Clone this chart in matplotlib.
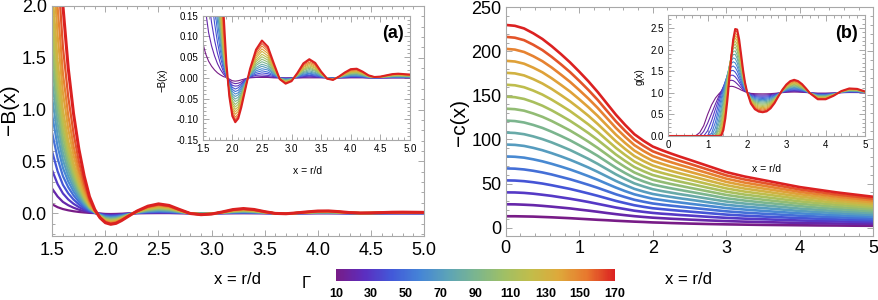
import matplotlib
matplotlib.use("Agg")
import matplotlib.pyplot as plt
from matplotlib.colors import LinearSegmentedColormap, Normalize
from matplotlib.cm import ScalarMappable
from matplotlib.ticker import MultipleLocator, FormatStrFormatter

plt.rcParams['font.family'] = ['Liberation Sans', 'DejaVu Sans']

# coupling parameter of every curve
gamma = [10, 20, 30, 40, 50, 60, 70, 80, 90, 100, 110, 120, 130, 140, 150, 160, 170]
cbar_ticks = [10, 30, 50, 70, 90, 110, 130, 150, 170]

# -c(x), one row per gamma
x_c = [0.0, 0.125, 0.25, 0.375, 0.5, 0.625, 0.75, 0.875, 1.0, 1.125, 1.25, 1.375, 1.5, 1.625,
       1.75, 1.875, 2.0, 2.125, 2.25, 2.375, 2.5, 2.75, 3.0, 3.25, 3.5, 3.75, 4.0, 4.25, 4.5, 4.75, 5.0]
minus_c = [
    [12.9, 12.9, 12.7, 12.5, 12.1, 11.7, 11.2, 10.7, 10.1, 9.5, 8.9, 8.4, 7.8, 7.3, 6.8, 6.4, 5.9, 5.6, 5.2, 4.9, 4.6, 4.1, 3.7, 3.4, 3.1, 2.9, 2.7, 2.5, 2.4, 2.2, 2.1],
    [26.5, 26.4, 26.0, 25.5, 24.7, 23.8, 22.8, 21.8, 20.5, 19.3, 18.0, 16.6, 15.3, 14.1, 13.0, 12.1, 11.3, 10.7, 10.1, 9.6, 9.1, 8.2, 7.4, 6.8, 6.3, 5.8, 5.4, 5.0, 4.7, 4.4, 4.2],
    [40.0, 39.9, 39.4, 38.5, 37.3, 36.0, 34.4, 32.8, 31.0, 29.1, 27.0, 24.9, 22.8, 21.0, 19.2, 17.9, 16.7, 15.8, 15.1, 14.3, 13.7, 12.3, 11.1, 10.2, 9.5, 8.8, 8.1, 7.6, 7.1, 6.6, 6.2],
    [53.6, 53.4, 52.7, 51.5, 50.0, 48.1, 46.0, 43.9, 41.4, 38.8, 36.1, 33.2, 30.3, 27.8, 25.4, 23.6, 22.0, 21.0, 20.0, 19.1, 18.2, 16.5, 14.8, 13.6, 12.6, 11.7, 10.8, 10.1, 9.4, 8.8, 8.3],
    [67.2, 66.9, 66.0, 64.5, 62.6, 60.3, 57.6, 54.9, 51.8, 48.6, 45.2, 41.5, 37.8, 34.6, 31.6, 29.4, 27.4, 26.1, 24.9, 23.8, 22.7, 20.6, 18.5, 17.0, 15.8, 14.7, 13.5, 12.6, 11.8, 11.0, 10.3],
    [80.8, 80.4, 79.4, 77.5, 75.2, 72.4, 69.3, 66.0, 62.3, 58.4, 54.3, 49.8, 45.4, 41.4, 37.8, 35.2, 32.8, 31.3, 29.8, 28.5, 27.2, 24.7, 22.2, 20.5, 19.0, 17.6, 16.2, 15.2, 14.1, 13.2, 12.4],
    [94.3, 93.9, 92.7, 90.5, 87.8, 84.5, 80.9, 77.0, 72.7, 68.2, 63.3, 58.1, 52.9, 48.3, 44.0, 40.9, 38.2, 36.4, 34.8, 33.2, 31.8, 28.8, 25.9, 23.9, 22.2, 20.6, 18.9, 17.7, 16.5, 15.4, 14.4],
    [107.9, 107.4, 106.0, 103.5, 100.4, 96.7, 92.5, 88.1, 83.1, 78.0, 72.4, 66.4, 60.4, 55.1, 50.2, 46.7, 43.6, 41.5, 39.7, 37.9, 36.3, 32.9, 29.6, 27.3, 25.4, 23.5, 21.6, 20.2, 18.8, 17.6, 16.5],
    [121.5, 120.9, 119.3, 116.5, 113.1, 108.8, 104.1, 99.1, 93.5, 87.7, 81.5, 74.7, 67.9, 61.9, 56.4, 52.4, 48.9, 46.7, 44.6, 42.7, 40.8, 37.1, 33.3, 30.7, 28.5, 26.5, 24.4, 22.7, 21.2, 19.8, 18.5],
    [135.0, 134.4, 132.7, 129.5, 125.7, 121.0, 115.7, 110.2, 104.0, 97.5, 90.5, 83.0, 75.4, 68.7, 62.6, 58.2, 54.3, 51.8, 49.5, 47.4, 45.3, 41.2, 37.1, 34.1, 31.7, 29.4, 27.1, 25.3, 23.5, 22.1, 20.6],
    [148.6, 148.0, 146.0, 142.5, 138.3, 133.1, 127.3, 121.2, 114.4, 107.3, 99.6, 91.3, 82.9, 75.6, 68.8, 64.0, 59.7, 57.0, 54.5, 52.1, 49.9, 45.3, 40.8, 37.5, 34.9, 32.3, 29.8, 27.8, 25.9, 24.3, 22.7],
    [162.2, 161.5, 159.3, 155.5, 150.9, 145.2, 138.9, 132.3, 124.8, 117.1, 108.7, 99.5, 90.4, 82.4, 75.0, 69.7, 65.1, 62.1, 59.4, 56.8, 54.4, 49.4, 44.5, 40.9, 38.1, 35.3, 32.5, 30.3, 28.2, 26.5, 24.7],
    [175.7, 175.0, 172.7, 168.5, 163.5, 157.4, 150.5, 143.3, 135.3, 126.9, 117.7, 107.8, 97.9, 89.2, 81.2, 75.5, 70.5, 67.2, 64.3, 61.5, 58.9, 53.5, 48.2, 44.3, 41.3, 38.2, 35.2, 32.9, 30.6, 28.7, 26.8],
    [189.3, 188.5, 186.0, 181.5, 176.2, 169.5, 162.1, 154.4, 145.7, 136.6, 126.8, 116.1, 105.4, 96.0, 87.4, 81.2, 75.8, 72.4, 69.2, 66.3, 63.4, 57.7, 51.9, 47.7, 44.4, 41.2, 37.9, 35.4, 32.9, 30.9, 28.8],
    [202.9, 202.0, 199.3, 194.5, 188.8, 181.7, 173.7, 165.4, 156.1, 146.4, 135.9, 124.4, 113.0, 102.9, 93.6, 87.0, 81.2, 77.5, 74.2, 71.0, 68.0, 61.8, 55.6, 51.1, 47.6, 44.1, 40.6, 37.9, 35.3, 33.1, 30.9],
    [216.5, 215.5, 212.7, 207.5, 201.4, 193.8, 185.4, 176.5, 166.6, 156.2, 145.0, 132.7, 120.5, 109.7, 99.8, 92.8, 86.6, 82.7, 79.1, 75.7, 72.5, 65.9, 59.3, 54.6, 50.8, 47.1, 43.3, 40.5, 37.6, 35.3, 32.9],
    [230.0, 229.0, 226.0, 220.5, 214.0, 205.9, 197.0, 187.5, 177.0, 166.0, 154.0, 141.0, 128.0, 116.5, 106.0, 98.5, 92.0, 87.8, 84.0, 80.4, 77.0, 70.0, 63.0, 58.0, 54.0, 50.0, 46.0, 43.0, 40.0, 37.5, 35.0],
]

# -B(x), one row per gamma
x_b = [1.5, 1.55, 1.6, 1.65, 1.7, 1.75, 1.8, 1.85, 1.9, 1.95, 2.0, 2.05, 2.1, 2.15, 2.2, 2.25,
       2.3, 2.4, 2.5, 2.6, 2.7, 2.8, 2.9, 3.0, 3.1, 3.2, 3.3, 3.4, 3.5, 3.6, 3.7, 3.8, 3.9,
       4.0, 4.1, 4.2, 4.3, 4.4, 4.5, 4.6, 4.7, 4.8, 4.9, 5.0]
minus_b = [
    [0.085, 0.058, 0.040, 0.028, 0.019, 0.012, 0.007, 0.003, 0.001, -0.003, -0.007, -0.008, -0.007, -0.005, -0.003, -0.001,
     0.0, 0.001, 0.001, 0.001, 0.0, 0.0, 0.0, 0.0, 0.0, 0.0, 0.0, 0.0, 0.0, 0.0, 0.0, 0.0, 0.0, 0.0,
     0.0, 0.0, 0.0, 0.0, 0.0, 0.0, 0.0, 0.0, 0.0, 0.0],
    [0.235, 0.161, 0.109, 0.077, 0.053, 0.034, 0.020, 0.009, 0.002, -0.006, -0.012, -0.014, -0.013, -0.010, -0.005, -0.001,
     0.001, 0.002, 0.003, 0.003, 0.001, 0.0, -0.001, 0.0, 0.0, 0.001, 0.002, 0.001, 0.001, 0.0, 0.0, 0.0, 0.0, 0.001,
     0.001, 0.001, 0.0, 0.0, 0.0, 0.0, 0.0, 0.0, 0.0, 0.0],
    [0.410, 0.281, 0.191, 0.133, 0.091, 0.059, 0.034, 0.015, 0.003, -0.009, -0.018, -0.020, -0.019, -0.014, -0.008, -0.002,
     0.002, 0.006, 0.007, 0.006, 0.003, 0.0, -0.001, -0.001, 0.001, 0.003, 0.004, 0.003, 0.001, 0.0, 0.0, 0.0, 0.001, 0.002,
     0.002, 0.001, 0.0, 0.0, 0.0, 0.0, 0.001, 0.001, 0.001, 0.001],
    [0.590, 0.405, 0.274, 0.192, 0.132, 0.085, 0.049, 0.022, 0.005, -0.011, -0.023, -0.027, -0.024, -0.018, -0.010, -0.002,
     0.003, 0.009, 0.012, 0.010, 0.005, 0.0, -0.002, -0.001, 0.002, 0.005, 0.006, 0.005, 0.002, 0.0, -0.001, 0.0, 0.002, 0.003,
     0.003, 0.002, 0.001, 0.0, 0.0, 0.001, 0.001, 0.001, 0.001, 0.001],
    [0.770, 0.528, 0.358, 0.251, 0.172, 0.111, 0.064, 0.029, 0.006, -0.014, -0.028, -0.033, -0.030, -0.022, -0.012, -0.002,
     0.004, 0.013, 0.017, 0.014, 0.007, -0.001, -0.003, -0.002, 0.002, 0.007, 0.009, 0.007, 0.003, 0.0, -0.001, 0.001, 0.002, 0.004,
     0.004, 0.003, 0.001, 0.0, 0.001, 0.001, 0.002, 0.002, 0.002, 0.002],
    [0.940, 0.645, 0.437, 0.306, 0.210, 0.136, 0.079, 0.035, 0.008, -0.016, -0.033, -0.039, -0.036, -0.026, -0.015, -0.003,
     0.005, 0.017, 0.022, 0.019, 0.009, -0.001, -0.003, -0.002, 0.003, 0.009, 0.011, 0.009, 0.004, 0.0, -0.001, 0.001, 0.003, 0.005,
     0.005, 0.004, 0.001, 0.0, 0.001, 0.001, 0.002, 0.002, 0.002, 0.002],
    [1.100, 0.755, 0.512, 0.358, 0.246, 0.159, 0.092, 0.041, 0.009, -0.019, -0.039, -0.045, -0.041, -0.030, -0.017, -0.003,
     0.007, 0.021, 0.028, 0.023, 0.011, -0.001, -0.004, -0.002, 0.004, 0.011, 0.014, 0.011, 0.005, -0.001, -0.002, 0.001, 0.004, 0.006,
     0.007, 0.005, 0.002, 0.001, 0.001, 0.002, 0.003, 0.003, 0.003, 0.002],
    [1.260, 0.864, 0.586, 0.410, 0.281, 0.182, 0.105, 0.047, 0.010, -0.022, -0.044, -0.051, -0.047, -0.035, -0.019, -0.004,
     0.008, 0.025, 0.033, 0.028, 0.013, -0.001, -0.005, -0.003, 0.004, 0.013, 0.017, 0.013, 0.006, -0.001, -0.002, 0.001, 0.005, 0.008,
     0.008, 0.006, 0.002, 0.001, 0.001, 0.002, 0.003, 0.004, 0.003, 0.003],
    [1.419, 0.974, 0.660, 0.462, 0.317, 0.205, 0.119, 0.053, 0.012, -0.024, -0.049, -0.057, -0.053, -0.039, -0.021, -0.004,
     0.010, 0.030, 0.039, 0.033, 0.015, -0.001, -0.006, -0.003, 0.005, 0.015, 0.020, 0.016, 0.007, -0.001, -0.002, 0.001, 0.006, 0.009,
     0.010, 0.007, 0.003, 0.001, 0.001, 0.003, 0.004, 0.004, 0.004, 0.003],
    [1.580, 1.084, 0.735, 0.514, 0.353, 0.228, 0.132, 0.059, 0.013, -0.027, -0.055, -0.064, -0.058, -0.043, -0.024, -0.005,
     0.011, 0.034, 0.045, 0.038, 0.018, -0.002, -0.007, -0.004, 0.006, 0.018, 0.023, 0.018, 0.008, -0.001, -0.003, 0.002, 0.007, 0.011,
     0.011, 0.008, 0.003, 0.001, 0.002, 0.003, 0.005, 0.005, 0.005, 0.004],
    [1.750, 1.201, 0.814, 0.570, 0.391, 0.252, 0.147, 0.065, 0.014, -0.029, -0.060, -0.070, -0.064, -0.047, -0.026, -0.005,
     0.013, 0.039, 0.051, 0.043, 0.020, -0.002, -0.008, -0.005, 0.007, 0.020, 0.026, 0.020, 0.009, -0.001, -0.003, 0.002, 0.007, 0.012,
     0.013, 0.009, 0.003, 0.001, 0.002, 0.003, 0.005, 0.006, 0.005, 0.005],
    [1.931, 1.325, 0.898, 0.629, 0.431, 0.278, 0.162, 0.072, 0.016, -0.032, -0.065, -0.076, -0.070, -0.051, -0.028, -0.006,
     0.014, 0.043, 0.057, 0.048, 0.022, -0.002, -0.009, -0.005, 0.008, 0.022, 0.029, 0.023, 0.010, -0.001, -0.003, 0.002, 0.008, 0.013,
     0.014, 0.010, 0.004, 0.001, 0.002, 0.004, 0.006, 0.006, 0.006, 0.005],
    [2.150, 1.475, 1.000, 0.700, 0.480, 0.310, 0.180, 0.080, 0.018, -0.035, -0.071, -0.082, -0.075, -0.055, -0.031, -0.006,
     0.016, 0.048, 0.064, 0.053, 0.025, -0.002, -0.010, -0.006, 0.008, 0.025, 0.032, 0.025, 0.011, -0.001, -0.004, 0.002, 0.009, 0.015,
     0.016, 0.011, 0.004, 0.001, 0.002, 0.004, 0.006, 0.007, 0.006, 0.006],
    [2.498, 1.714, 1.162, 0.813, 0.558, 0.360, 0.209, 0.093, 0.020, -0.037, -0.076, -0.088, -0.081, -0.059, -0.033, -0.007,
     0.017, 0.053, 0.070, 0.059, 0.027, -0.002, -0.011, -0.006, 0.009, 0.027, 0.035, 0.028, 0.012, -0.002, -0.004, 0.002, 0.010, 0.016,
     0.017, 0.012, 0.005, 0.002, 0.002, 0.005, 0.007, 0.008, 0.007, 0.006],
    [2.898, 1.988, 1.348, 0.944, 0.647, 0.418, 0.243, 0.108, 0.024, -0.040, -0.081, -0.095, -0.087, -0.064, -0.035, -0.007,
     0.019, 0.058, 0.077, 0.064, 0.030, -0.003, -0.012, -0.007, 0.010, 0.030, 0.038, 0.031, 0.013, -0.002, -0.004, 0.003, 0.011, 0.018,
     0.019, 0.013, 0.005, 0.002, 0.003, 0.005, 0.008, 0.009, 0.008, 0.007],
    [3.449, 2.366, 1.604, 1.123, 0.770, 0.497, 0.289, 0.128, 0.028, -0.042, -0.087, -0.101, -0.092, -0.068, -0.038, -0.008,
     0.020, 0.063, 0.083, 0.069, 0.032, -0.003, -0.013, -0.007, 0.011, 0.032, 0.042, 0.033, 0.014, -0.002, -0.005, 0.003, 0.012, 0.019,
     0.020, 0.014, 0.006, 0.002, 0.003, 0.006, 0.008, 0.009, 0.008, 0.007],
    [4.300, 2.950, 2.000, 1.400, 0.960, 0.620, 0.360, 0.160, 0.035, -0.045, -0.092, -0.107, -0.098, -0.072, -0.040, -0.008,
     0.022, 0.068, 0.090, 0.075, 0.035, -0.003, -0.014, -0.008, 0.012, 0.035, 0.045, 0.036, 0.015, -0.002, -0.005, 0.003, 0.013, 0.021,
     0.022, 0.015, 0.006, 0.002, 0.003, 0.006, 0.009, 0.010, 0.009, 0.008],
]

# g(x), one row per gamma
x_g = [0.0, 0.6, 0.7, 0.8, 0.9, 1.0, 1.1, 1.2, 1.3, 1.35, 1.4, 1.45, 1.5, 1.55, 1.6, 1.65, 1.7, 1.75,
       1.8, 1.85, 1.9, 1.95, 2.0, 2.1, 2.2, 2.3, 2.4, 2.5, 2.6, 2.7, 2.8, 2.9, 3.0, 3.1, 3.2, 3.3,
       3.4, 3.5, 3.6, 3.8, 4.0, 4.2, 4.4, 4.6, 4.8, 5.0]
g_x = [
    [0, 0, 0.01, 0.08, 0.24, 0.50, 0.72, 0.88, 0.99, 1.03, 1.07, 1.10, 1.13, 1.145, 1.15, 1.145, 1.13, 1.11,
     1.09, 1.065, 1.045, 1.025, 1.01, 0.986, 0.979, 0.976, 0.975, 0.976, 0.980, 0.987, 0.996, 1.004, 1.011, 1.015,
     1.017, 1.015, 1.011, 1.006, 0.999, 0.992, 0.992, 0.996, 1.002, 1.006, 1.005, 1.002],
    [0, 0, 0, 0, 0.107, 0.297, 0.52, 0.746, 0.955, 1.047, 1.128, 1.195, 1.246, 1.279, 1.29, 1.282, 1.251, 1.208,
     1.162, 1.114, 1.071, 1.036, 1.011, 0.971, 0.956, 0.950, 0.948, 0.951, 0.959, 0.972, 0.991, 1.008, 1.022, 1.031,
     1.035, 1.031, 1.023, 1.012, 0.999, 0.983, 0.983, 0.992, 1.005, 1.012, 1.010, 1.003],
    [0, 0, 0, 0, 0, 0.122, 0.354, 0.627, 0.902, 1.028, 1.143, 1.243, 1.322, 1.379, 1.407, 1.404, 1.370, 1.313,
     1.241, 1.169, 1.104, 1.052, 1.013, 0.957, 0.934, 0.924, 0.922, 0.925, 0.937, 0.958, 0.986, 1.012, 1.033, 1.047,
     1.052, 1.047, 1.035, 1.017, 0.998, 0.974, 0.974, 0.988, 1.007, 1.017, 1.016, 1.005],
    [0, 0, 0, 0, 0, 0.009, 0.187, 0.479, 0.814, 0.979, 1.132, 1.269, 1.382, 1.465, 1.512, 1.517, 1.480, 1.409,
     1.315, 1.219, 1.134, 1.065, 1.014, 0.942, 0.912, 0.899, 0.895, 0.900, 0.916, 0.944, 0.981, 1.016, 1.044, 1.063,
     1.070, 1.063, 1.047, 1.023, 0.998, 0.965, 0.965, 0.984, 1.009, 1.023, 1.021, 1.007],
    [0, 0, 0, 0, 0, 0, 0.062, 0.327, 0.697, 0.890, 1.080, 1.256, 1.404, 1.522, 1.597, 1.620, 1.587, 1.508,
     1.393, 1.275, 1.166, 1.082, 1.015, 0.927, 0.889, 0.873, 0.869, 0.874, 0.895, 0.930, 0.977, 1.020, 1.055, 1.079,
     1.088, 1.079, 1.058, 1.029, 0.997, 0.956, 0.956, 0.980, 1.012, 1.029, 1.026, 1.009],
    [0, 0, 0, 0, 0, 0, 0.002, 0.192, 0.569, 0.789, 1.014, 1.226, 1.418, 1.571, 1.677, 1.718, 1.692, 1.604,
     1.470, 1.333, 1.199, 1.093, 1.016, 0.912, 0.867, 0.847, 0.842, 0.849, 0.874, 0.916, 0.972, 1.025, 1.067, 1.095,
     1.105, 1.095, 1.070, 1.035, 0.997, 0.947, 0.947, 0.975, 1.014, 1.035, 1.032, 1.011],
    [0, 0, 0, 0, 0, 0, 0, 0.085, 0.433, 0.666, 0.919, 1.168, 1.401, 1.595, 1.737, 1.806, 1.790, 1.699,
     1.545, 1.390, 1.231, 1.109, 1.018, 0.898, 0.844, 0.822, 0.816, 0.824, 0.852, 0.902, 0.967, 1.029, 1.078, 1.111,
     1.123, 1.111, 1.082, 1.041, 0.996, 0.939, 0.939, 0.971, 1.016, 1.041, 1.037, 1.012],
    [0, 0, 0, 0, 0, 0, 0, 0.029, 0.328, 0.565, 0.833, 1.111, 1.377, 1.609, 1.787, 1.886, 1.887, 1.794,
     1.627, 1.451, 1.266, 1.125, 1.019, 0.883, 0.822, 0.796, 0.789, 0.798, 0.831, 0.887, 0.962, 1.033, 1.089, 1.127,
     1.141, 1.127, 1.094, 1.047, 0.995, 0.930, 0.930, 0.967, 1.019, 1.047, 1.042, 1.014],
    [0, 0, 0, 0, 0, 0, 0, 0.002, 0.219, 0.451, 0.731, 1.037, 1.341, 1.615, 1.830, 1.957, 1.970, 1.874,
     1.697, 1.500, 1.294, 1.135, 1.020, 0.868, 0.799, 0.770, 0.762, 0.773, 0.810, 0.873, 0.958, 1.037, 1.100, 1.143,
     1.158, 1.143, 1.106, 1.053, 0.995, 0.921, 0.921, 0.963, 1.021, 1.053, 1.048, 1.016],
    [0, 0, 0, 0, 0, 0, 0, 0, 0.146, 0.356, 0.634, 0.954, 1.285, 1.595, 1.850, 2.016, 2.057, 1.966,
     1.790, 1.556, 1.333, 1.151, 1.021, 0.853, 0.777, 0.745, 0.736, 0.748, 0.789, 0.859, 0.953, 1.041, 1.112, 1.159,
     1.176, 1.159, 1.117, 1.059, 0.994, 0.912, 0.912, 0.959, 1.024, 1.059, 1.053, 1.018],
    [0, 0, 0, 0, 0, 0, 0, 0, 0.086, 0.269, 0.540, 0.871, 1.229, 1.574, 1.868, 2.065, 2.130, 2.047,
     1.864, 1.609, 1.360, 1.164, 1.023, 0.839, 0.755, 0.719, 0.709, 0.722, 0.767, 0.845, 0.948, 1.045, 1.123, 1.174,
     1.194, 1.174, 1.129, 1.065, 0.994, 0.903, 0.903, 0.955, 1.026, 1.065, 1.058, 1.019],
    [0, 0, 0, 0, 0, 0, 0, 0, 0.040, 0.187, 0.441, 0.777, 1.159, 1.539, 1.874, 2.110, 2.200, 2.124,
     1.930, 1.659, 1.389, 1.177, 1.024, 0.824, 0.732, 0.693, 0.683, 0.697, 0.746, 0.831, 0.944, 1.049, 1.134, 1.190,
     1.212, 1.190, 1.141, 1.071, 0.993, 0.894, 0.894, 0.951, 1.028, 1.071, 1.063, 1.021],
    [0, 0, 0, 0, 0, 0, 0, 0, 0.016, 0.129, 0.362, 0.693, 1.091, 1.504, 1.875, 2.150, 2.269, 2.202,
     2.002, 1.710, 1.423, 1.187, 1.025, 0.809, 0.710, 0.668, 0.656, 0.672, 0.725, 0.817, 0.939, 1.053, 1.145, 1.206,
     1.229, 1.206, 1.153, 1.076, 0.992, 0.885, 0.885, 0.947, 1.031, 1.076, 1.069, 1.023],
    [0, 0, 0, 0, 0, 0, 0, 0, 0.004, 0.081, 0.283, 0.603, 1.011, 1.449, 1.858, 2.173, 2.325, 2.271,
     2.069, 1.756, 1.450, 1.202, 1.026, 0.794, 0.687, 0.642, 0.630, 0.646, 0.704, 0.803, 0.934, 1.058, 1.156, 1.222,
     1.247, 1.222, 1.165, 1.082, 0.992, 0.877, 0.877, 0.942, 1.033, 1.082, 1.074, 1.025],
    [0, 0, 0, 0, 0, 0, 0, 0, 0.0, 0.053, 0.230, 0.538, 0.949, 1.413, 1.855, 2.204, 2.381, 2.335,
     2.124, 1.804, 1.477, 1.211, 1.028, 0.780, 0.665, 0.616, 0.603, 0.621, 0.683, 0.788, 0.929, 1.062, 1.168, 1.238,
     1.265, 1.238, 1.176, 1.088, 0.991, 0.868, 0.868, 0.938, 1.035, 1.088, 1.079, 1.027],
    [0, 0, 0, 0, 0, 0, 0, 0, 0, 0.031, 0.181, 0.473, 0.884, 1.364, 1.836, 2.223, 2.434, 2.407,
     2.187, 1.853, 1.505, 1.228, 1.029, 0.765, 0.642, 0.591, 0.577, 0.595, 0.661, 0.774, 0.925, 1.066, 1.179, 1.254,
     1.282, 1.254, 1.188, 1.094, 0.991, 0.859, 0.859, 0.934, 1.038, 1.094, 1.085, 1.028],
    [0, 0, 0, 0, 0, 0, 0, 0, 0, 0.016, 0.137, 0.406, 0.812, 1.306, 1.812, 2.235, 2.476, 2.463,
     2.243, 1.890, 1.530, 1.236, 1.030, 0.750, 0.620, 0.565, 0.550, 0.570, 0.640, 0.760, 0.920, 1.070, 1.190, 1.270,
     1.300, 1.270, 1.200, 1.100, 0.990, 0.850, 0.850, 0.930, 1.040, 1.100, 1.090, 1.030],
]

# rainbow-like colour scale (purple -> red)
cmap = LinearSegmentedColormap.from_list('rainbow_m', [
    (0.00, (0.47, 0.11, 0.53)), (0.10, (0.36, 0.18, 0.75)), (0.20, (0.26, 0.35, 0.85)),
    (0.30, (0.27, 0.52, 0.84)), (0.40, (0.36, 0.64, 0.72)), (0.50, (0.48, 0.71, 0.56)),
    (0.60, (0.62, 0.75, 0.40)), (0.70, (0.76, 0.74, 0.29)), (0.80, (0.87, 0.66, 0.23)),
    (0.90, (0.91, 0.47, 0.18)), (1.00, (0.86, 0.13, 0.13))])
norm = Normalize(vmin=10, vmax=170)

W, H = 879, 300
FRAME = '#a8a8a8'


def box(x0, y0, x1, y1):
    # pixel box -> figure fraction
    return [x0 / W, 1 - y1 / H, (x1 - x0) / W, (y1 - y0) / H]


def style(ax, size, pad):
    for s in ax.spines.values():
        s.set_color(FRAME)
        s.set_linewidth(0.8)
    ax.tick_params(which='both', direction='in', top=True, right=True,
                   color=FRAME, width=0.7, labelsize=size, pad=pad)
    ax.tick_params(which='major', length=4)
    ax.tick_params(which='minor', length=2)


def text(x, y, s, **kw):
    fig.text(x / W, 1 - y / H, s, ha='center', va='center', **kw)


fig = plt.figure(figsize=(W / 100, H / 100), dpi=100)

# ---- panel (a): -B(x)
ax = fig.add_axes(box(52.3, 6, 424, 236))
for row, g in zip(minus_b, gamma):
    ax.plot(x_b, row, color=cmap(norm(g)), lw=2.2 if g == 170 else 1.6)
ax.set_xlim(1.5, 5.0)
ax.set_ylim(-0.22, 2.0)
ax.xaxis.set_major_locator(MultipleLocator(0.5))
ax.xaxis.set_minor_locator(MultipleLocator(0.1))
ax.yaxis.set_major_locator(MultipleLocator(0.5))
ax.yaxis.set_minor_locator(MultipleLocator(0.1))
ax.xaxis.set_major_formatter(FormatStrFormatter('%.1f'))
ax.yaxis.set_major_formatter(FormatStrFormatter('%.1f'))
style(ax, 13, 4)

ia = fig.add_axes(box(202.7, 15.7, 410, 140))
for row, g in zip(minus_b, gamma):
    ia.plot(x_b, row, color=cmap(norm(g)), lw=1.5 if g == 170 else 0.8)
ia.set_xlim(1.5, 5.0)
ia.set_ylim(-0.15, 0.15)
ia.xaxis.set_major_locator(MultipleLocator(0.5))
ia.xaxis.set_minor_locator(MultipleLocator(0.1))
ia.yaxis.set_major_locator(MultipleLocator(0.05))
ia.yaxis.set_minor_locator(MultipleLocator(0.01))
ia.xaxis.set_major_formatter(FormatStrFormatter('%.1f'))
ia.yaxis.set_major_formatter(FormatStrFormatter('%.2f'))
style(ia, 7, 3)

# ---- panel (b): -c(x)
bx = fig.add_axes(box(505.7, 7.3, 873.3, 236))
for row, g in zip(minus_c, gamma):
    bx.plot(x_c, row, color=cmap(norm(g)), lw=1.9)
bx.set_xlim(0, 5)
bx.set_ylim(-9.5, 250)
bx.xaxis.set_major_locator(MultipleLocator(1))
bx.xaxis.set_minor_locator(MultipleLocator(0.2))
bx.yaxis.set_major_locator(MultipleLocator(50))
bx.yaxis.set_minor_locator(MultipleLocator(10))
style(bx, 13, 3)

ib = fig.add_axes(box(668.3, 15, 865, 136))
for row, g in zip(g_x, gamma):
    ib.plot(x_g, row, color=cmap(norm(g)), lw=1.5 if g == 170 else 0.8)
ib.set_xlim(0, 5)
ib.set_ylim(0, 2.8)
ib.xaxis.set_major_locator(MultipleLocator(1))
ib.xaxis.set_minor_locator(MultipleLocator(0.2))
ib.yaxis.set_major_locator(MultipleLocator(0.5))
ib.yaxis.set_minor_locator(MultipleLocator(0.1))
ib.yaxis.set_major_formatter(FormatStrFormatter('%.1f'))
style(ib, 7, 3)

# ---- labels
text(10, 110, '\u2212B(x)', rotation=90, fontsize=15)
text(460, 122, '\u2212c(x)', rotation=90, fontsize=15)
text(163, 80, '\u2212B(x)', rotation=90, fontsize=7)
text(640, 77, 'g(x)', rotation=90, fontsize=7)
text(308, 171, 'x = r/d', fontsize=7.5)
text(767, 169, 'x = r/d', fontsize=7.5)
text(393, 33, '(a)', fontsize=13, fontweight='bold')
text(847, 34, '(b)', fontsize=13, fontweight='bold')
text(238, 279, 'x = r/d', fontsize=12)
text(689, 279, 'x = r/d', fontsize=12)
text(306, 283, '\u0393', fontsize=12)

# ---- colour bar
cax = fig.add_axes(box(336, 269, 615, 281))
cb = fig.colorbar(ScalarMappable(norm=norm, cmap=cmap), cax=cax,
                  orientation='horizontal', ticks=cbar_ticks)
cb.outline.set_visible(False)
cax.tick_params(length=0, labelsize=9, pad=5)
for lab in cax.get_xticklabels():
    lab.set_fontweight('bold')

fig.savefig('out.png', dpi=100)
